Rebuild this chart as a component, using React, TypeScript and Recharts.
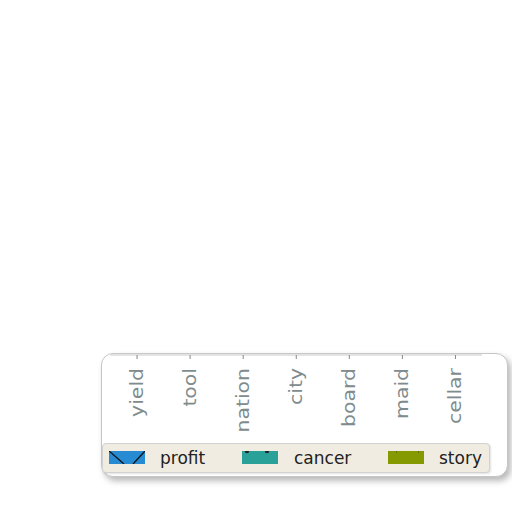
import React from "react";
import { BarChart, Bar, XAxis, YAxis } from "recharts";

const categories = ["yield", "tool", "nation", "city", "board", "maid", "cellar"];
const profit = [0, 0, 0, 0, 0, 0, 0];
const cancer = [0, 0, 0, 0, 0, 0, 0];
const story = [0, 0, 0, 0, 0, 0, 0];
const seriesNames = ["profit", "cancer", "story"];
const seriesColors = ["#268bd2", "#2aa198", "#859900"];

const data = categories.map((c, i) => ({
  name: c,
  profit: profit[i],
  cancer: cancer[i],
  story: story[i],
}));

const FONT = "'DejaVu Sans', sans-serif";

const Tick = (props: any) => {
  const { x, y, payload } = props;
  return (
    <text
      transform={`translate(${x},${y + 7}) rotate(-90) scale(1.2,1)`}
      textAnchor="end"
      dominantBaseline="central"
      fontFamily={FONT}
      fontSize={17}
      fill="#7f8c8d"
    >
      {payload.value}
    </text>
  );
};

const Swatch = ({ i }: { i: number }) => (
  <svg width={36} height={13} style={{ display: "block" }}>
    <rect x={0} y={0} width={36} height={13} fill={seriesColors[i]} />
    {i === 0 && (
      <g stroke="#111" strokeWidth={1.3}>
        <line x1={0} y1={0} x2={15} y2={13} />
        <line x1={24} y1={13} x2={36} y2={0} />
      </g>
    )}
    {i === 1 && (
      <g fill="#222">
        <circle cx={5} cy={0} r={2.2} />
        <circle cx={25} cy={0} r={2.2} />
      </g>
    )}
    {i === 2 && (
      <g fill="#556000">
        <rect x={8} y={0} width={1} height={1.5} />
        <rect x={30} y={0} width={1} height={1.5} />
      </g>
    )}
  </svg>
);

const legendPos = [
  { sx: 109, tx: 160 },
  { sx: 242, tx: 294 },
  { sx: 388, tx: 439 },
];

export default function App() {
  return (
    <div style={{ position: "fixed", left: 0, top: 0, width: 512, height: 512, background: "#ffffff" }}>
      <div
        style={{
          position: "absolute",
          left: 101,
          top: 353,
          width: 405,
          height: 122,
          border: "1.5px solid #c6c6c6",
          borderRadius: 12,
          boxShadow: "3px 4px 6px rgba(0,0,0,0.28)",
          background: "#ffffff",
        }}
      />
      <div style={{ position: "absolute", left: 0, top: 0 }}>
        <BarChart
          width={512}
          height={512}
          data={data}
          margin={{ top: 20, left: 110.5, right: 30, bottom: 57 }}
          barCategoryGap="20%"
        >
          <YAxis hide domain={[0, 1]} />
          <XAxis
            dataKey="name"
            height={100}
            interval={0}
            tickSize={4}
            axisLine={{ stroke: "#c8c8c8", strokeWidth: 1 }}
            tickLine={{ stroke: "#888888", strokeWidth: 1 }}
            tick={<Tick />}
          />
          {seriesNames.map((s, i) => (
            <Bar key={s} dataKey={s} fill={seriesColors[i]} isAnimationActive={false} />
          ))}
        </BarChart>
      </div>
      <div
        style={{
          position: "absolute",
          left: 102,
          top: 443,
          width: 386,
          height: 28,
          background: "#f1ece1",
          border: "1px solid #d2d2d2",
          borderRadius: 4,
          boxShadow: "1px 1px 2px rgba(0,0,0,0.12)",
        }}
      >
        {seriesNames.map((s, i) => (
          <React.Fragment key={s}>
            <div style={{ position: "absolute", left: legendPos[i].sx - 103, top: 7 }}>
              <Swatch i={i} />
            </div>
            <div
              style={{
                position: "absolute",
                left: legendPos[i].tx - 103,
                top: 2,
                fontFamily: FONT,
                fontSize: 17,
                lineHeight: "24px",
                color: "#222222",
                whiteSpace: "nowrap",
              }}
            >
              {s}
            </div>
          </React.Fragment>
        ))}
      </div>
    </div>
  );
}
